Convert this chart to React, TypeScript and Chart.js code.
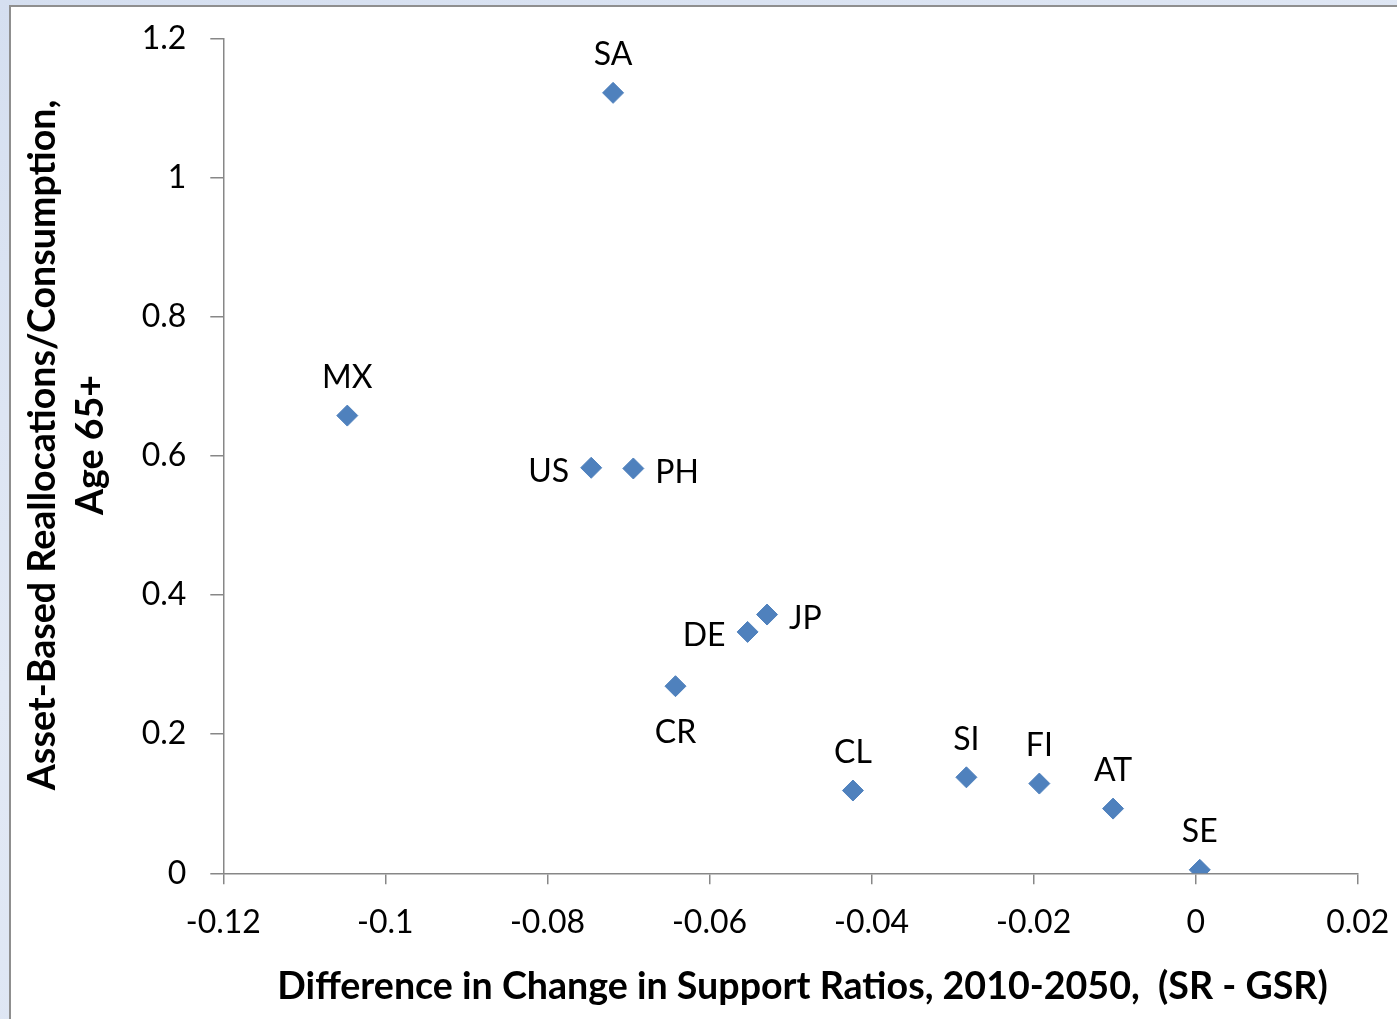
import React, { useEffect, useRef } from "react";
import { Chart, registerables } from "chart.js";

Chart.register(...registerables);

// Country codes and their coordinates
const countries = ["SA", "MX", "US", "PH", "DE", "JP", "CR", "CL", "SI", "FI", "AT", "SE"];
const supportRatioDiff = [-0.0719, -0.1047, -0.0746, -0.0694, -0.0553, -0.0529, -0.0642, -0.0423, -0.0283, -0.0193, -0.0102, 0.0005];
const reallocationShare = [1.122, 0.658, 0.583, 0.582, 0.347, 0.372, 0.269, 0.119, 0.138, 0.129, 0.093, 0.005];

// Axis ticks
const xTicks = [-0.12, -0.1, -0.08, -0.06, -0.04, -0.02, 0, 0.02];
const xTickLabels = ["-0.12", "-0.1", "-0.08", "-0.06", "-0.04", "-0.02", "0", "0.02"];
const yTicks = [0, 0.2, 0.4, 0.6, 0.8, 1, 1.2];
const yTickLabels = ["0", "0.2", "0.4", "0.6", "0.8", "1", "1.2"];

const xTitle = "Difference in Change in Support Ratios, 2010-2050,  (SR - GSR)";
const yTitleLines = ["Asset-Based Reallocations/Consumption,", "Age 65+"];

type Side = "above" | "below" | "left" | "right";
// Where each country's label sits relative to its marker
const labelSide: Record<string, Side> = {
  SA: "above",
  MX: "above",
  US: "left",
  PH: "right",
  DE: "left",
  JP: "right",
  CR: "below",
  CL: "above",
  SI: "above",
  FI: "above",
  AT: "above",
  SE: "above",
};

const FONT = "Lato, 'Open Sans', sans-serif";
const AXIS_GREY = "#878787";
const MARKER = "#4f81bd";

const pointLabels = {
  id: "pointLabels",
  afterDatasetsDraw(chart: any) {
    const meta = chart.getDatasetMeta(0);
    const ctx: CanvasRenderingContext2D = chart.ctx;
    ctx.save();
    ctx.font = `32px ${FONT}`;
    ctx.fillStyle = "#000";
    ctx.textBaseline = "middle";
    meta.data.forEach((el: any, i: number) => {
      const { x, y } = el.getProps(["x", "y"], true);
      const side = labelSide[countries[i]];
      if (side === "above") {
        ctx.textAlign = "center";
        ctx.fillText(countries[i], x, y - 38);
      } else if (side === "below") {
        ctx.textAlign = "center";
        ctx.fillText(countries[i], x, y + 46);
      } else if (side === "left") {
        ctx.textAlign = "right";
        ctx.fillText(countries[i], x - 22, y + 4);
      } else {
        ctx.textAlign = "left";
        ctx.fillText(countries[i], x + 22, y + 4);
      }
    });
    ctx.restore();
  },
};

const axisTitles = {
  id: "axisTitles",
  afterDraw(chart: any) {
    const { ctx, chartArea } = chart;
    ctx.save();
    ctx.fillStyle = "#000";
    ctx.font = `bold 37.6px ${FONT}`;
    ctx.textAlign = "center";
    ctx.textBaseline = "middle";
    const cx = (chartArea.left + chartArea.right) / 2 + 12;
    ctx.fillText(xTitle, cx, chartArea.bottom + 114);

    const cy = (chartArea.top + chartArea.bottom) / 2 - 11;
    ctx.translate(0, cy);
    ctx.rotate(-Math.PI / 2);
    ctx.fillText(yTitleLines[0], 0, 43);
    ctx.fillText(yTitleLines[1], 0, 91);
    ctx.restore();
  },
};

export default function App() {
  const canvasRef = useRef<HTMLCanvasElement | null>(null);

  useEffect(() => {
    if (!canvasRef.current) return;
    const chart = new Chart(canvasRef.current, {
      type: "scatter",
      data: {
        datasets: [
          {
            data: supportRatioDiff.map((x, i) => ({ x, y: reallocationShare[i] })),
            pointStyle: "rectRot",
            pointRadius: 10.5,
            pointHoverRadius: 10.5,
            borderWidth: 1,
            backgroundColor: MARKER,
            borderColor: MARKER,
          },
        ],
      },
      options: {
        responsive: false,
        animation: false,
        devicePixelRatio: 1,
        events: [],
        layout: { padding: { top: 38.6, right: 39.2, left: 0, bottom: 0 } },
        plugins: {
          legend: { display: false },
          tooltip: { enabled: false },
        },
        scales: {
          x: {
            type: "linear",
            min: -0.12,
            max: 0.02,
            afterBuildTicks: (s: any) => {
              s.ticks = xTicks.map((v) => ({ value: v }));
            },
            afterFit: (s: any) => {
              s.height = 145.7;
              s.paddingLeft = 0;
              s.paddingRight = 0;
            },
            ticks: {
              callback: (_v: any, i: number) => xTickLabels[i],
              font: { family: FONT, size: 32 },
              color: "#000",
              padding: 19,
              maxRotation: 0,
              autoSkip: false,
            },
            grid: {
              drawOnChartArea: false,
              drawTicks: true,
              tickLength: 11,
              color: AXIS_GREY,
              lineWidth: 1.5,
            },
            border: { display: true, color: AXIS_GREY, width: 1.5 },
          },
          y: {
            type: "linear",
            min: 0,
            max: 1.2,
            afterBuildTicks: (s: any) => {
              s.ticks = yTicks.map((v) => ({ value: v }));
            },
            afterFit: (s: any) => {
              s.width = 223.3;
              s.paddingTop = 0;
              s.paddingBottom = 0;
            },
            ticks: {
              callback: (_v: any, i: number) => yTickLabels[i],
              font: { family: FONT, size: 32 },
              color: "#000",
              padding: 24,
              autoSkip: false,
            },
            grid: {
              drawOnChartArea: false,
              drawTicks: true,
              tickLength: 13,
              color: AXIS_GREY,
              lineWidth: 1.5,
            },
            border: { display: true, color: AXIS_GREY, width: 1.5 },
          },
        },
      },
      plugins: [pointLabels, axisTitles],
    });
    return () => chart.destroy();
  }, []);

  return (
    <div
      style={{
        position: "fixed",
        left: 0,
        top: 0,
        width: 1397,
        height: 1019,
        overflow: "hidden",
        background: "linear-gradient(160deg, #d5dff0 0%, #e2e9f5 45%, #d9e2f2 100%)",
      }}
    >
      <div
        style={{
          position: "absolute",
          left: 9,
          top: 5,
          width: 1397,
          height: 1019,
          background: "#fff",
          borderLeft: "2px solid #8f8f8f",
          borderTop: "2px solid #8f8f8f",
        }}
      />
      <canvas
        ref={canvasRef}
        width={1397}
        height={1019}
        style={{ position: "absolute", left: 0, top: 0, width: 1397, height: 1019 }}
      />
    </div>
  );
}
